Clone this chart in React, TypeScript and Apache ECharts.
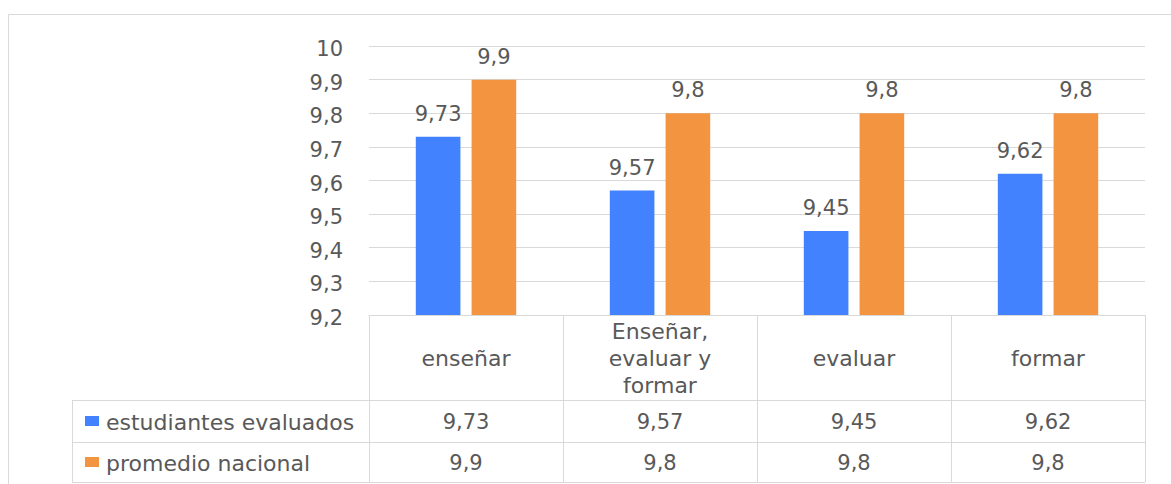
import React, { useEffect, useRef } from 'react';
import * as echarts from 'echarts';

const categories = ['enseñar', 'Enseñar,\nevaluar y\nformar', 'evaluar', 'formar'];
const seriesNames = ['estudiantes evaluados', 'promedio nacional'];
const estudiantes = [9.73, 9.57, 9.45, 9.62];
const promedio = [9.9, 9.8, 9.8, 9.8];
const seriesColors = ['#4382ff', '#f39441'];
const yMin = 9.2;
const yMax = 10;
const yStep = 0.1;

const FONT = 'DejaVu Sans';
const FS = 21;
const FSW = 22;
const TXT = '#595959';
const LINE = '#d9d9d9';

const fmt = (v: number, d: number) => String(Math.round(v * Math.pow(10, d)) / Math.pow(10, d)).replace('.', ',');

export default function App() {
  const ref = useRef<HTMLDivElement>(null);
  useEffect(() => {
    if (!ref.current) return;
    const chart = echarts.init(ref.current, undefined, { renderer: 'svg' });
    const gridLeft = 369;
    const gridRight = 1145;
    const gridTop = 46;
    const gridBottom = 315;
    const W = 1171;
    const H = 484;
    const barLabel = {
      show: true,
      position: 'top',
      distance: 12.5,
      fontSize: FS,
      fontFamily: FONT,
      color: TXT,
      formatter: (p: any) => fmt(p.value, 2),
    };
    chart.setOption({
      animation: false,
      backgroundColor: '#ffffff',
      textStyle: { fontFamily: FONT },
      grid: { left: gridLeft, right: W - gridRight, top: gridTop, bottom: H - gridBottom, containLabel: false },
      xAxis: {
        type: 'category',
        data: categories,
        axisLine: { show: true, lineStyle: { color: LINE, width: 1 } },
        axisTick: { show: false },
        axisLabel: { show: false },
        splitLine: { show: false },
      },
      yAxis: {
        type: 'value',
        min: yMin,
        max: yMax,
        interval: yStep,
        axisLine: { show: false },
        axisTick: { show: false },
        axisLabel: {
          margin: 26,
          fontSize: FS,
          fontFamily: FONT,
          color: TXT,
          formatter: (v: number) => '{a|' + fmt(v, 1) + '}',
          rich: {
            a: { fontSize: FS, fontFamily: FONT, color: TXT, padding: [6, 0, 0, 0] },
          },
        },
        splitLine: { show: true, lineStyle: { color: LINE, width: 1 } },
      },
      series: [
        {
          name: seriesNames[0],
          type: 'bar',
          data: estudiantes,
          barWidth: '23%',
          barGap: '25%',
          itemStyle: { color: seriesColors[0] },
          label: barLabel,
        },
        {
          name: seriesNames[1],
          type: 'bar',
          data: promedio,
          barWidth: '23%',
          barGap: '25%',
          itemStyle: { color: seriesColors[1] },
          label: barLabel,
        },
      ],
    });

    // Build the data table below the plot from the axis scale
    const n = categories.length;
    const centers = categories.map((_, i) => chart.convertToPixel({ xAxisIndex: 0 }, i) as number);
    const colW = (gridRight - gridLeft) / n;
    const rowTops = [gridBottom, 400, 442, 482];
    const legendLeft = 72;
    const els: any[] = [];
    const line = (x1: number, y1: number, x2: number, y2: number) => ({
      type: 'line',
      silent: true,
      shape: { x1, y1, x2, y2 },
      style: { stroke: LINE, lineWidth: 1 },
    });
    const text = (t: string, x: number, y: number, align: string, fs: number) => ({
      type: 'text',
      silent: true,
      x,
      y,
      style: {
        text: t,
        fontSize: fs,
        fontFamily: FONT,
        fill: TXT,
        lineHeight: 27,
        align,
        verticalAlign: 'middle',
        textAlign: align,
        textVerticalAlign: 'middle',
      },
    });
    // outer frame
    els.push({
      type: 'rect',
      silent: true,
      shape: { x: 8.5, y: 14.5, width: 1300, height: 600 },
      style: { fill: 'transparent', stroke: LINE, lineWidth: 1 },
    });
    // horizontal lines of the table
    for (let r = 1; r < rowTops.length; r++) {
      els.push(line(legendLeft, rowTops[r] + 0.5, gridRight, rowTops[r] + 0.5));
    }
    // vertical lines
    els.push(line(legendLeft + 0.5, rowTops[1], legendLeft + 0.5, rowTops[3]));
    for (let i = 0; i <= n; i++) {
      const x = Math.round(gridLeft + i * colW) + 0.5;
      els.push(line(x, gridBottom, x, rowTops[3]));
    }
    // header texts
    categories.forEach((c, i) => {
      els.push(text(c, centers[i], (rowTops[0] + rowTops[1]) / 2 + 1, 'center', FSW));
    });
    // value rows
    const rows = [estudiantes, promedio];
    rows.forEach((vals, r) => {
      const yc = (rowTops[r + 1] + rowTops[r + 2]) / 2 + 1;
      els.push({
        type: 'rect',
        silent: true,
        shape: { x: 85, y: yc - 6, width: 14, height: 10 },
        style: { fill: seriesColors[r] },
      });
      els.push(text(seriesNames[r], 106, yc, 'left', FSW));
      vals.forEach((v, i) => {
        els.push(text(fmt(v, 2), centers[i], yc, 'center', FS));
      });
    });
    chart.setOption({ graphic: { elements: els } });

    return () => chart.dispose();
  }, []);
  return <div ref={ref} style={{ position: 'absolute', left: 0, top: 0, width: 1171, height: 484 }} />;
}
